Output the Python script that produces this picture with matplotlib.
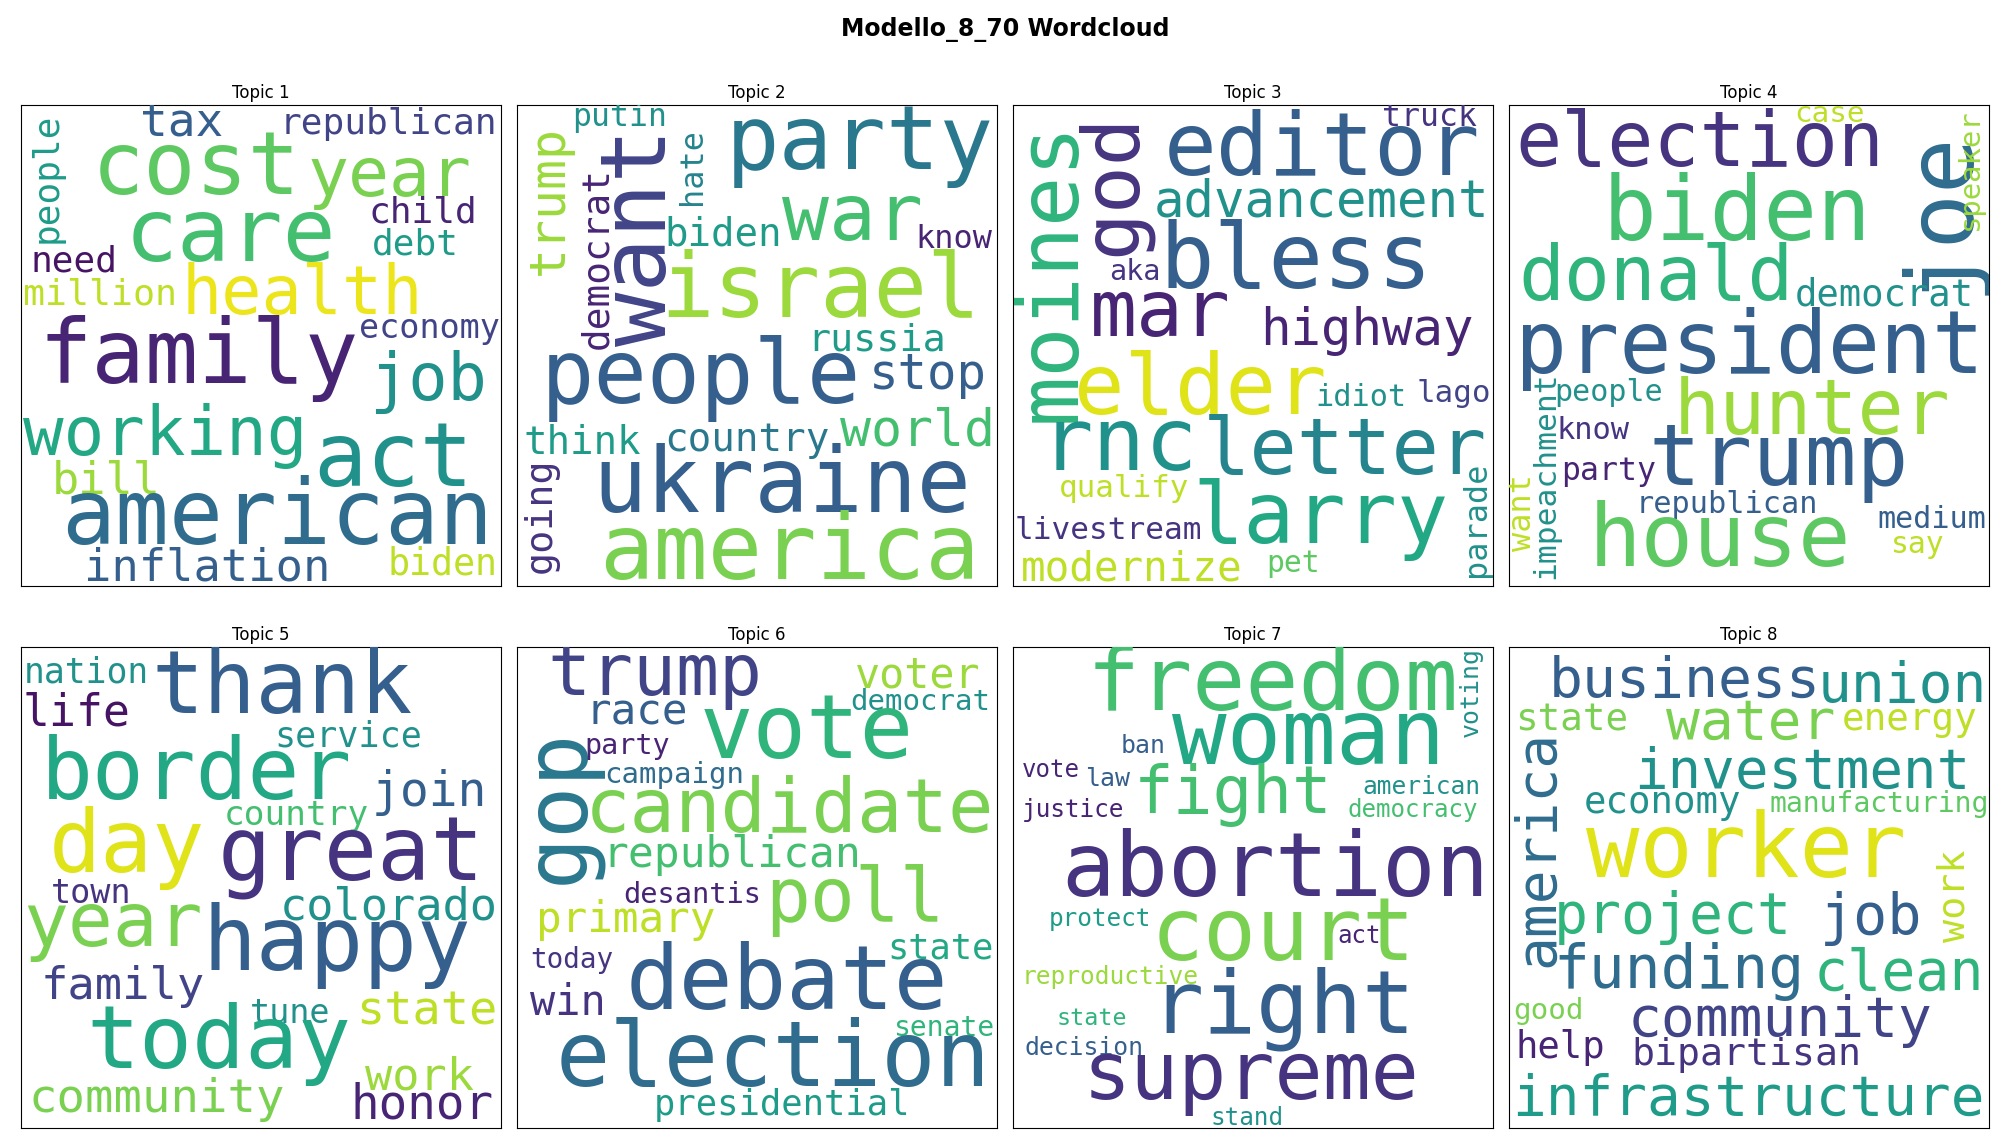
import matplotlib
matplotlib.use("Agg")
import matplotlib.pyplot as plt

# words of each topic (data)
topic_words = [
    ["cost", "year", "tax", "republican", "people", "care", "child", "debt", "need", "million",
     "health", "economy", "family", "job", "working", "act", "bill", "american", "inflation", "biden"],
    ["putin", "party", "trump", "democrat", "want", "hate", "war", "biden", "know", "israel",
     "russia", "people", "stop", "think", "country", "world", "going", "ukraine", "america"],
    ["truck", "editor", "god", "moines", "advancement", "bless", "aka", "mar", "highway", "elder",
     "idiot", "lago", "rnc", "letter", "parade", "qualify", "larry", "livestream", "modernize", "pet"],
    ["case", "election", "joe", "speaker", "biden", "donald", "democrat", "president", "people", "hunter",
     "know", "impeachment", "trump", "party", "want", "republican", "medium", "house", "say"],
    ["nation", "thank", "life", "service", "border", "join", "country", "day", "great", "town",
     "colorado", "year", "happy", "family", "tune", "state", "today", "work", "community", "honor"],
    ["trump", "voter", "democrat", "race", "gop", "vote", "party", "campaign", "candidate", "republican",
     "poll", "desantis", "primary", "state", "today", "debate", "win", "senate", "election", "presidential"],
    ["freedom", "voting", "woman", "ban", "vote", "law", "fight", "american", "justice", "democracy",
     "abortion", "protect", "act", "court", "reproductive", "right", "state", "decision", "supreme", "stand"],
    ["business", "union", "state", "water", "energy", "investment", "america", "economy", "manufacturing", "worker",
     "project", "job", "work", "funding", "clean", "good", "community", "help", "bipartisan", "infrastructure"],
]

# layout: (centre x, centre y, extent px, rotated, colour value) in panel pixels (375 wide)
layout = [
    [(137, 51, 163, 0, .75), (288, 56, 128, 0, .8), (126, 15, 65, 0, .3), (287, 15, 170, 0, .2),
     (20, 57, 102, 1, .55), (164, 103, 165, 0, .7), (314, 84, 85, 0, .1), (308, 109, 68, 0, .55),
     (42, 122, 68, 0, .05), (62, 148, 120, 0, .9), (220, 148, 188, 0, .97), (319, 174, 110, 0, .2),
     (139, 198, 250, 0, .1), (318, 216, 92, 0, .5), (113, 258, 222, 0, .6), (291, 278, 125, 0, .5),
     (67, 293, 85, 0, .85), (200, 323, 337, 0, .35), (146, 361, 192, 0, .3), (329, 358, 86, 0, .9)],
    [(80, 10, 74, 0, .5), (268, 31, 209, 0, .4), (25, 74, 117, 1, .85), (63, 119, 142, 1, .1),
     (97, 103, 170, 1, .2), (137, 48, 60, 1, .45), (262, 88, 110, 0, .7), (161, 101, 92, 0, .55),
     (341, 105, 60, 0, .1), (237, 146, 250, 0, .85), (281, 184, 108, 0, .55), (144, 213, 250, 0, .3),
     (321, 211, 92, 0, .3), (51, 264, 92, 0, .55), (180, 261, 129, 0, .4), (313, 255, 121, 0, .7),
     (19, 320, 90, 1, .15), (207, 298, 296, 0, .3), (213, 350, 297, 0, .8)],
    [(325, 10, 74, 0, .15), (241, 36, 247, 0, .3), (78, 62, 112, 1, .15), (30, 130, 235, 1, .65),
     (241, 76, 262, 0, .5), (221, 123, 213, 0, .3), (95, 130, 40, 0, .15), (115, 163, 110, 0, .1),
     (276, 176, 167, 0, .1), (146, 223, 197, 0, .95), (272, 228, 71, 0, .5), (344, 225, 58, 0, .2),
     (83, 266, 123, 0, .5), (259, 271, 222, 0, .45), (362, 323, 90, 1, .5), (87, 299, 102, 0, .9),
     (240, 323, 200, 0, .6), (75, 332, 146, 0, .15), (93, 362, 173, 0, .9), (219, 358, 42, 0, .75)],
    [(250, 7, 55, 0, .9), (149, 31, 288, 0, .15), (336, 83, 130, 1, .35), (360, 50, 95, 1, .85),
     (178, 86, 210, 0, .7), (115, 136, 215, 0, .65), (293, 148, 140, 0, .5), (188, 190, 366, 0, .3),
     (78, 224, 85, 0, .5), (237, 240, 216, 0, .85), (66, 254, 57, 0, .15), (29, 289, 162, 1, .5),
     (211, 278, 203, 0, .3), (78, 286, 74, 0, .1), (11, 318, 60, 1, .9), (170, 312, 142, 0, .3),
     (330, 323, 85, 0, .3), (165, 341, 205, 0, .75), (319, 343, 42, 0, .9)],
    [(51, 20, 98, 0, .5), (204, 33, 204, 0, .3), (44, 51, 84, 0, .05), (256, 70, 115, 0, .5),
     (137, 100, 243, 0, .6), (319, 113, 90, 0, .3), (215, 131, 113, 0, .7), (83, 157, 122, 0, .95),
     (258, 163, 208, 0, .15), (55, 192, 63, 0, .15), (287, 203, 170, 0, .5), (72, 217, 140, 0, .8),
     (247, 233, 210, 0, .3), (80, 265, 128, 0, .2), (210, 286, 63, 0, .5), (317, 285, 110, 0, .9),
     (155, 310, 207, 0, .6), (311, 335, 85, 0, .85), (106, 353, 200, 0, .8), (313, 357, 112, 0, .1)],
    [(108, 22, 168, 0, .2), (313, 22, 98, 0, .85), (315, 43, 109, 0, .5), (94, 51, 80, 0, .3),
     (33, 124, 122, 1, .4), (226, 67, 167, 0, .65), (86, 77, 67, 0, .1), (123, 100, 109, 0, .35),
     (213, 128, 319, 0, .8), (168, 162, 202, 0, .7), (264, 198, 140, 0, .8), (137, 193, 108, 0, .1),
     (85, 213, 140, 0, .9), (331, 235, 83, 0, .6), (43, 244, 65, 0, .15), (211, 263, 252, 0, .3),
     (40, 278, 59, 0, .15), (333, 297, 79, 0, .65), (200, 323, 339, 0, .35), (207, 357, 200, 0, .55)],
    [(203, 30, 290, 0, .7), (357, 35, 70, 1, .5), (231, 72, 213, 0, .6), (102, 77, 35, 0, .3),
     (30, 96, 45, 0, .1), (74, 103, 35, 0, .3), (172, 115, 155, 0, .7), (319, 109, 92, 0, .5),
     (47, 127, 80, 0, .1), (312, 127, 102, 0, .7), (205, 175, 334, 0, .15), (68, 212, 80, 0, .55),
     (270, 225, 34, 0, .1), (211, 225, 207, 0, .8), (76, 257, 138, 0, .85), (211, 282, 207, 0, .3),
     (62, 290, 55, 0, .65), (56, 313, 93, 0, .3), (186, 335, 263, 0, .15), (183, 367, 57, 0, .5)],
    [(137, 27, 212, 0, .3), (307, 31, 132, 0, .5), (49, 57, 88, 0, .8), (189, 60, 132, 0, .8),
     (313, 57, 106, 0, .9), (229, 98, 262, 0, .5), (23, 157, 185, 1, .35), (120, 121, 123, 0, .5),
     (289, 122, 172, 0, .75), (185, 160, 250, 0, .95), (128, 211, 186, 0, .65), (283, 212, 80, 0, .3),
     (348, 194, 72, 1, .9), (133, 253, 196, 0, .35), (304, 255, 133, 0, .65), (31, 284, 55, 0, .8),
     (212, 292, 238, 0, .2), (40, 312, 70, 0, .1), (185, 318, 179, 0, .15), (187, 353, 368, 0, .55)],
]

W, H = 1568.0, 895.0
col_left = [16, 403, 790, 1177]
row_top = [82, 505]
P = 375.0

fig = plt.figure(figsize=(20.1, 11.47), dpi=100)
fig.suptitle("Modello_8_70 Wordcloud", fontsize=17, fontweight="bold", y=0.985)
cmap = plt.get_cmap("viridis")

for i, (words, lay) in enumerate(zip(topic_words, layout)):
    r, c = divmod(i, 4)
    ax = fig.add_axes([col_left[c] / W, 1 - (row_top[r] + P) / H, P / W, P / H])
    ax.set_xlim(0, P)
    ax.set_ylim(P, 0)
    ax.set_xticks([])
    ax.set_yticks([])
    ax.set_title(f"Topic {i + 1}", fontsize=12, pad=5)
    for w, (cx, cy, ext, rot, cv) in zip(words, lay):
        fs = 1.533 * ext / len(w)
        ax.text(cx, cy, w, fontsize=fs, family="DejaVu Sans Mono", color=cmap(cv),
                rotation=90 if rot else 0, ha="center", va="center", clip_on=True)

fig.savefig("out.png", dpi=100)
